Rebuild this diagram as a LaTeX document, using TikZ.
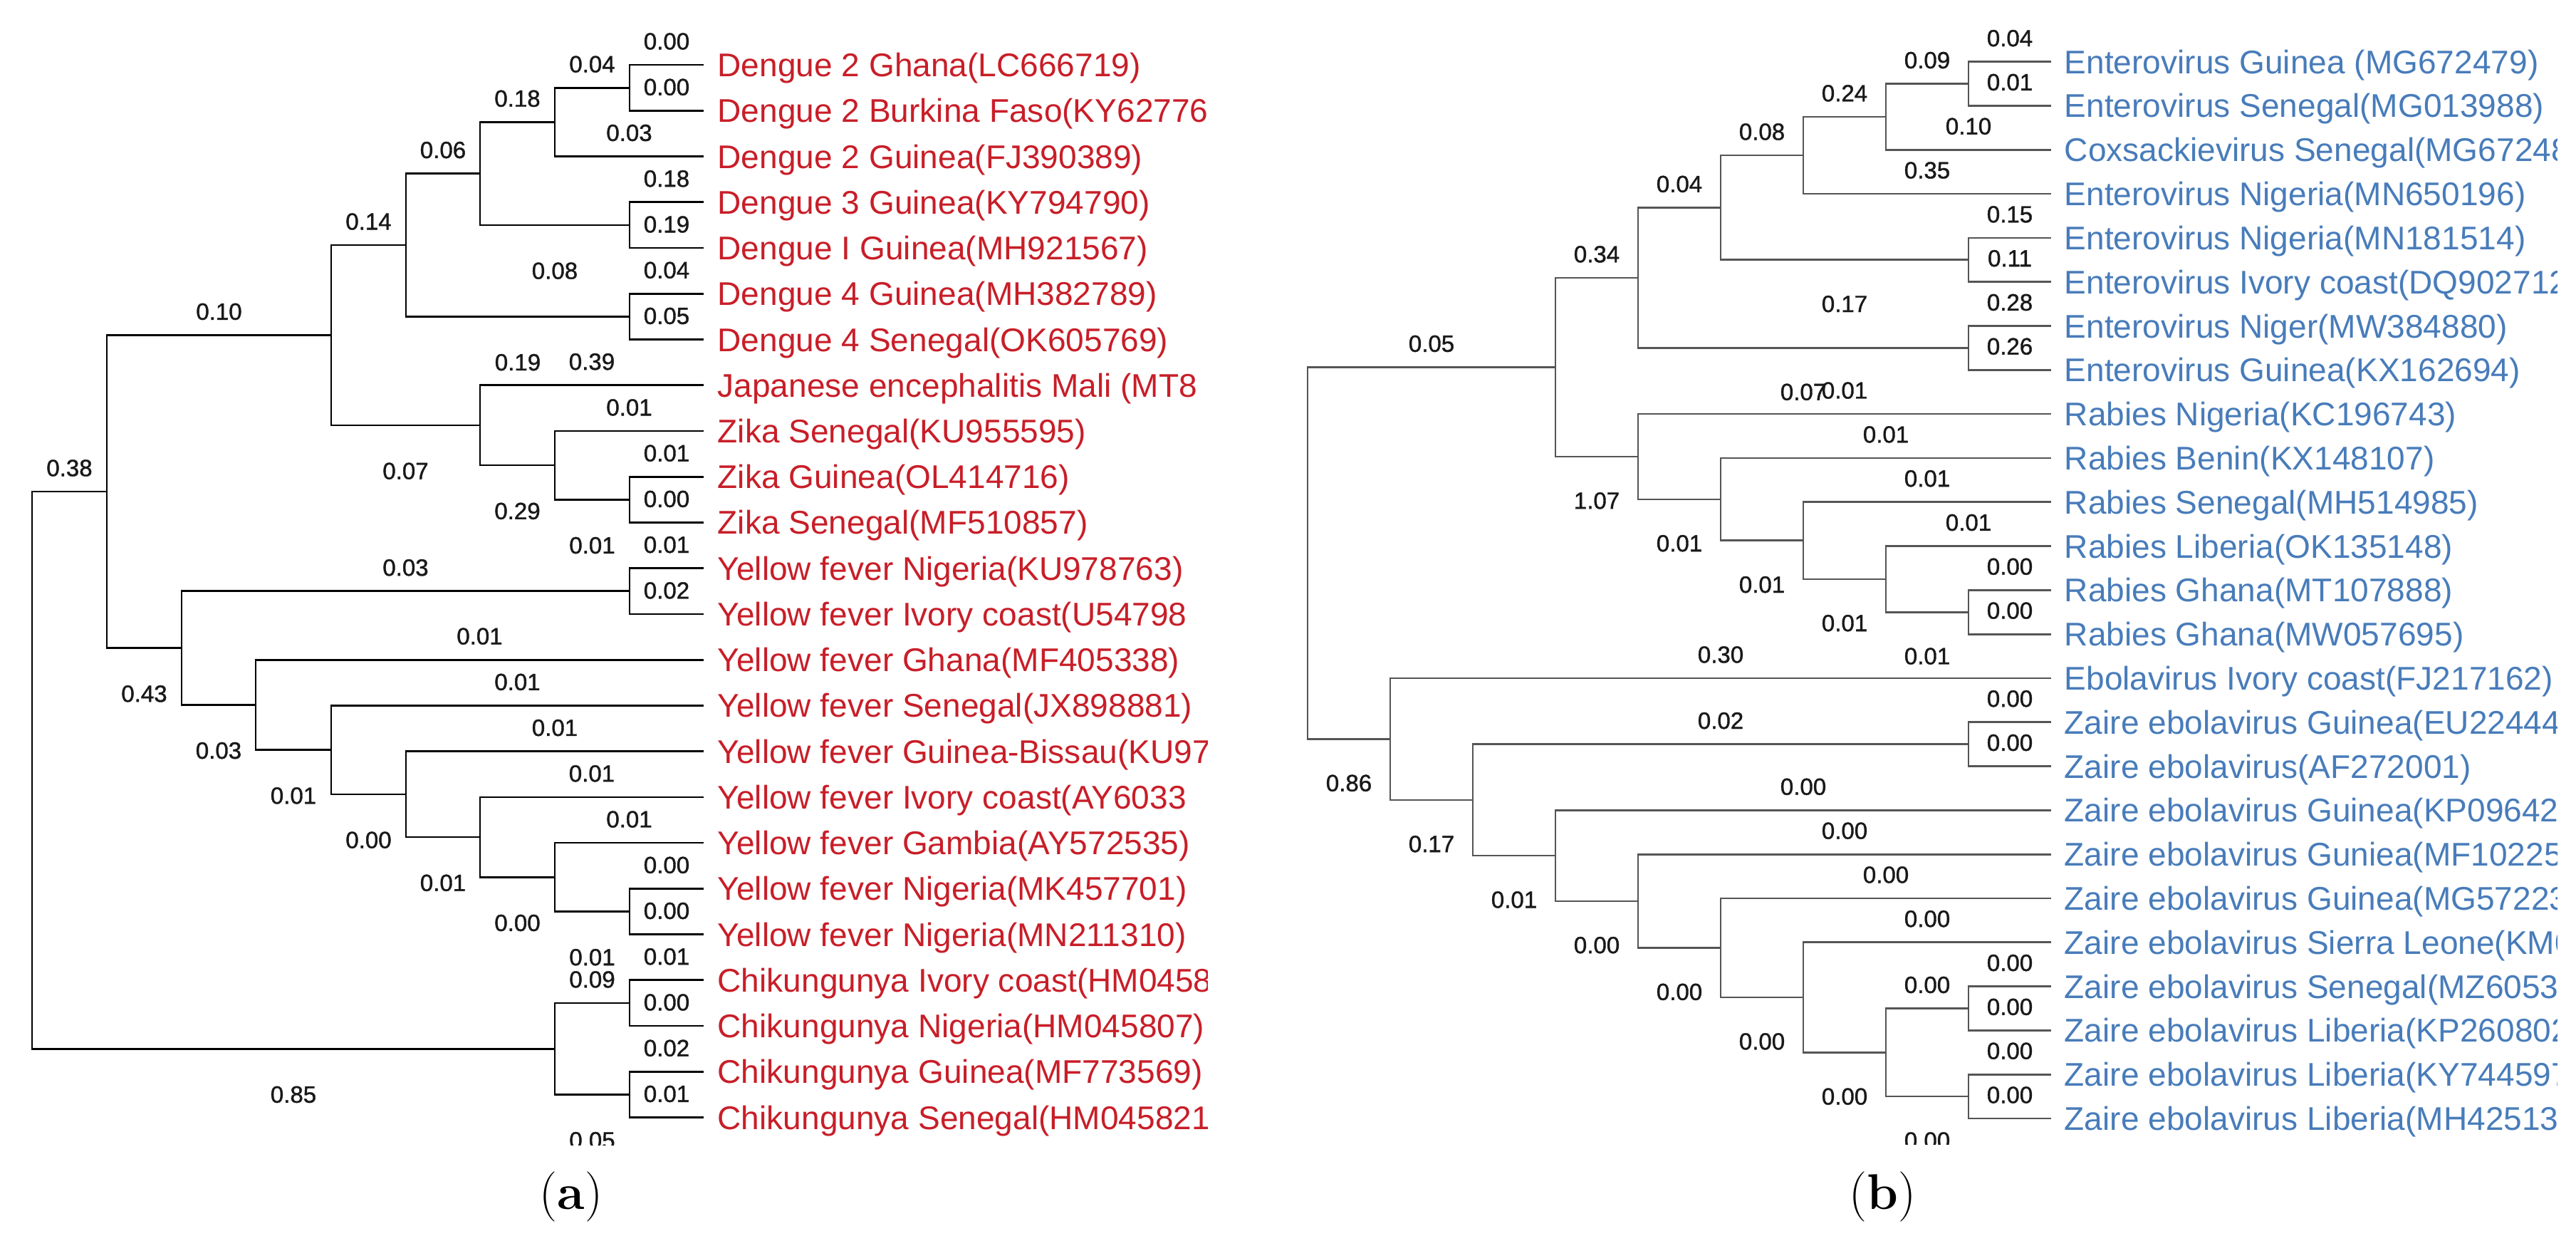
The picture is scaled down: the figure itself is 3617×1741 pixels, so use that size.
\documentclass[tikz,border=0pt]{standalone}
\usepackage{fontspec}
\newfontfamily\megafont{Liberation Sans}
\newfontfamily\lenfont[FakeBold=1.2]{Liberation Sans}
\definecolor{tipred}{RGB}{200,30,40}
\definecolor{tipblue}{RGB}{72,124,186}
\definecolor{treegray}{RGB}{85,85,85}

\begin{document}
\begin{tikzpicture}[x=0.01cm, y=-0.01cm,
	ba/.style={black, line width=0.027cm},
	bb/.style={treegray, line width=0.027cm},
	blen/.style={font=\lenfont\fontsize{9.4}{10}\selectfont, inner sep=0pt, text=black!90},
	lenup/.style={pos=.75, yshift=0.33cm},
	tipa/.style={anchor=base west, inner sep=0pt, xshift=0.19cm, yshift=-0.165cm, text=tipred, font=\megafont\fontsize{13.1}{15}\selectfont},
	tipb/.style={anchor=base west, inner sep=0pt, xshift=0.18cm, yshift=-0.165cm, text=tipblue, font=\megafont\fontsize{13.1}{15}\selectfont},
	panel/.style={inner sep=0pt, font=\fontsize{20}{24}\selectfont}]
\useasboundingbox (0,0) rectangle (3617,1741);

% (a)
\begin{scope}
	\clip (0,0) rectangle (1695,1607);
	\begin{scope}[y=-0.642cm, yshift=-0.268cm, lendn/.style={pos=.75, yshift=-0.642cm}]
	\coordinate (aroot) at (45,16.41);
	\coordinate (aA) at (150,10.324);
	\coordinate (aB) at (465,6.906);
	\coordinate (aC) at (570,4.938);
	\coordinate (aD) at (674,3.375);
	\coordinate (aE) at (779,2.25);
	\coordinate (aJ) at (674,8.875);
	\coordinate (aZk) at (779,9.75);
	\coordinate (aY) at (255,13.742);
	\coordinate (aZ) at (359,14.984);
	\coordinate (aW) at (465,15.969);
	\coordinate (aV) at (570,16.938);
	\coordinate (aU) at (674,17.875);
	\coordinate (aT) at (779,18.75);
	\coordinate (aK) at (779,22.5);
	\coordinate (ac12) at (884,1.5);
	\coordinate (ac45) at (884,4.5);
	\coordinate (ac67) at (884,6.5);
	\coordinate (ac1011) at (884,10.5);
	\coordinate (ac1213) at (884,12.5);
	\coordinate (ac1920) at (884,19.5);
	\coordinate (ac2122) at (884,21.5);
	\coordinate (ac2324) at (884,23.5);
	\foreach \i in {1,...,24} \coordinate (at\i) at (988,\i);

	\draw[ba] (aroot) |- node[blen,lenup] (laA) {0.38} (aA);
	\draw[ba] (aroot) |- node[blen,lendn] (laK) {0.85} (aK);
	\draw[ba] (aA) |- node[blen,lenup] (laB) {0.10} (aB);
	\draw[ba] (aA) |- node[blen,lendn] (laY) {0.43} (aY);
	\draw[ba] (aB) |- node[blen,lenup] (laC) {0.14} (aC);
	\draw[ba] (aB) |- node[blen,lendn] (laJ) {0.07} (aJ);
	\draw[ba] (aC) |- node[blen,lenup] (laD) {0.06} (aD);
	\draw[ba] (aC) |- node[blen,lendn] (lac67) {0.19} (ac67);
	\draw[ba] (aD) |- node[blen,lenup] (laE) {0.18} (aE);
	\draw[ba] (aD) |- node[blen,lendn] (lac45) {0.08} (ac45);
	\draw[ba] (aE) |- node[blen,lenup] (lac12) {0.04} (ac12);
	\draw[ba] (aE) |- node[blen,lenup] (lat3) {0.03} (at3);
	\draw[ba] (ac12) |- node[blen,lenup] (lat1) {0.00} (at1);
	\draw[ba] (ac12) |- node[blen,lenup] (lat2) {0.00} (at2);
	\draw[ba] (ac45) |- node[blen,lenup] (lat4) {0.18} (at4);
	\draw[ba] (ac45) |- node[blen,lenup] (lat5) {0.19} (at5);
	\draw[ba] (ac67) |- node[blen,lenup] (lat6) {0.04} (at6);
	\draw[ba] (ac67) |- node[blen,lenup] (lat7) {0.05} (at7);
	\draw[ba] (aJ) |- node[blen,lenup] (lat8) {0.39} (at8);
	\draw[ba] (aJ) |- node[blen,lendn] (laZk) {0.29} (aZk);
	\draw[ba] (aZk) |- node[blen,lenup] (lat9) {0.01} (at9);
	\draw[ba] (aZk) |- node[blen,lendn] (lac1011) {0.01} (ac1011);
	\draw[ba] (ac1011) |- node[blen,lenup] (lat10) {0.01} (at10);
	\draw[ba] (ac1011) |- node[blen,lenup] (lat11) {0.00} (at11);
	\draw[ba] (aY) |- node[blen,lenup] (lac1213) {0.03} (ac1213);
	\draw[ba] (aY) |- node[blen,lendn] (laZ) {0.03} (aZ);
	\draw[ba] (ac1213) |- node[blen,lenup] (lat12) {0.01} (at12);
	\draw[ba] (ac1213) |- node[blen,lenup] (lat13) {0.02} (at13);
	\draw[ba] (aZ) |- node[blen,lenup] (lat14) {0.01} (at14);
	\draw[ba] (aZ) |- node[blen,lendn] (laW) {0.01} (aW);
	\draw[ba] (aW) |- node[blen,lenup] (lat15) {0.01} (at15);
	\draw[ba] (aW) |- node[blen,lendn] (laV) {0.00} (aV);
	\draw[ba] (aV) |- node[blen,lenup] (lat16) {0.01} (at16);
	\draw[ba] (aV) |- node[blen,lendn] (laU) {0.01} (aU);
	\draw[ba] (aU) |- node[blen,lenup] (lat17) {0.01} (at17);
	\draw[ba] (aU) |- node[blen,lendn] (laT) {0.00} (aT);
	\draw[ba] (aT) |- node[blen,lenup] (lat18) {0.01} (at18);
	\draw[ba] (aT) |- node[blen,lendn] (lac1920) {0.01} (ac1920);
	\draw[ba] (ac1920) |- node[blen,lenup] (lat19) {0.00} (at19);
	\draw[ba] (ac1920) |- node[blen,lenup] (lat20) {0.00} (at20);
	\draw[ba] (aK) |- node[blen,lenup] (lac2122) {0.09} (ac2122);
	\draw[ba] (aK) |- node[blen,lendn] (lac2324) {0.05} (ac2324);
	\draw[ba] (ac2122) |- node[blen,lenup] (lat21) {0.01} (at21);
	\draw[ba] (ac2122) |- node[blen,lenup] (lat22) {0.00} (at22);
	\draw[ba] (ac2324) |- node[blen,lenup] (lat23) {0.02} (at23);
	\draw[ba] (ac2324) |- node[blen,lenup] (lat24) {0.01} (at24);

	\node[tipa] (nat1) at (at1) {Dengue 2 Ghana(LC666719)};
	\node[tipa] (nat2) at (at2) {Dengue 2 Burkina Faso(KY627766};
	\node[tipa] (nat3) at (at3) {Dengue 2 Guinea(FJ390389)};
	\node[tipa] (nat4) at (at4) {Dengue 3 Guinea(KY794790)};
	\node[tipa] (nat5) at (at5) {Dengue I Guinea(MH921567)};
	\node[tipa] (nat6) at (at6) {Dengue 4 Guinea(MH382789)};
	\node[tipa] (nat7) at (at7) {Dengue 4 Senegal(OK605769)};
	\node[tipa] (nat8) at (at8) {Japanese encephalitis Mali (MT8};
	\node[tipa] (nat9) at (at9) {Zika Senegal(KU955595)};
	\node[tipa] (nat10) at (at10) {Zika Guinea(OL414716)};
	\node[tipa] (nat11) at (at11) {Zika Senegal(MF510857)};
	\node[tipa] (nat12) at (at12) {Yellow fever Nigeria(KU978763)};
	\node[tipa] (nat13) at (at13) {Yellow fever Ivory coast(U54798};
	\node[tipa] (nat14) at (at14) {Yellow fever Ghana(MF405338)};
	\node[tipa] (nat15) at (at15) {Yellow fever Senegal(JX898881)};
	\node[tipa] (nat16) at (at16) {Yellow fever Guinea-Bissau(KU97};
	\node[tipa] (nat17) at (at17) {Yellow fever Ivory coast(AY6033};
	\node[tipa] (nat18) at (at18) {Yellow fever Gambia(AY572535)};
	\node[tipa] (nat19) at (at19) {Yellow fever Nigeria(MK457701)};
	\node[tipa] (nat20) at (at20) {Yellow fever Nigeria(MN211310)};
	\node[tipa] (nat21) at (at21) {Chikungunya Ivory coast(HM0458};
	\node[tipa] (nat22) at (at22) {Chikungunya Nigeria(HM045807)};
	\node[tipa] (nat23) at (at23) {Chikungunya Guinea(MF773569)};
	\node[tipa] (nat24) at (at24) {Chikungunya Senegal(HM045821};
	\end{scope}
\end{scope}

% (b)
\begin{scope}
	\clip (1700,0) rectangle (3590,1606);
	\begin{scope}[y=-0.6177cm, yshift=-0.2483cm, lendn/.style={pos=.75, yshift=-0.618cm}]
	\coordinate (broot) at (1836,12.16);
	\coordinate (bP) at (2184,7.9375);
	\coordinate (bQ) at (2300,5.906);
	\coordinate (bR) at (2416,4.3125);
	\coordinate (bS) at (2532,3.125);
	\coordinate (bG) at (2648,2.25);
	\coordinate (bM) at (2300,9.969);
	\coordinate (bN) at (2416,10.9375);
	\coordinate (bO) at (2532,11.875);
	\coordinate (bO2) at (2648,12.75);
	\coordinate (bE1) at (1952,16.383);
	\coordinate (bE2) at (2068,17.766);
	\coordinate (bE3) at (2184,19.031);
	\coordinate (bE4) at (2300,20.0625);
	\coordinate (bE5) at (2416,21.125);
	\coordinate (bE6) at (2532,22.25);
	\coordinate (bE7) at (2648,23.5);
	\coordinate (bc12) at (2764,1.5);
	\coordinate (bc56) at (2764,5.5);
	\coordinate (bc78) at (2764,7.5);
	\coordinate (bc1314) at (2764,13.5);
	\coordinate (bc1617) at (2764,16.5);
	\coordinate (bc2223) at (2764,22.5);
	\coordinate (bc2425) at (2764,24.5);
	\foreach \i in {1,...,25} \coordinate (bt\i) at (2880,\i);

	\draw[bb] (broot) |- node[blen,lenup] (lbP) {0.05} (bP);
	\draw[bb] (broot) |- node[blen,lendn] (lbE1) {0.86} (bE1);
	\draw[bb] (bP) |- node[blen,lenup] (lbQ) {0.34} (bQ);
	\draw[bb] (bP) |- node[blen,lendn] (lbM) {1.07} (bM);
	\draw[bb] (bQ) |- node[blen,lenup] (lbR) {0.04} (bR);
	\draw[bb] (bQ) |- node[blen,lendn] (lbc78) {0.07} (bc78);
	\draw[bb] (bR) |- node[blen,lenup] (lbS) {0.08} (bS);
	\draw[bb] (bR) |- node[blen,lendn] (lbc56) {0.17} (bc56);
	\draw[bb] (bS) |- node[blen,lenup] (lbG) {0.24} (bG);
	\draw[bb] (bS) |- node[blen,lenup] (lbt4) {0.35} (bt4);
	\draw[bb] (bG) |- node[blen,lenup] (lbc12) {0.09} (bc12);
	\draw[bb] (bG) |- node[blen,lenup] (lbt3) {0.10} (bt3);
	\draw[bb] (bc12) |- node[blen,lenup] (lbt1) {0.04} (bt1);
	\draw[bb] (bc12) |- node[blen,lenup] (lbt2) {0.01} (bt2);
	\draw[bb] (bc56) |- node[blen,lenup] (lbt5) {0.15} (bt5);
	\draw[bb] (bc56) |- node[blen,lenup] (lbt6) {0.11} (bt6);
	\draw[bb] (bc78) |- node[blen,lenup] (lbt7) {0.28} (bt7);
	\draw[bb] (bc78) |- node[blen,lenup] (lbt8) {0.26} (bt8);
	\draw[bb] (bM) |- node[blen,lenup] (lbt9) {0.01} (bt9);
	\draw[bb] (bM) |- node[blen,lendn] (lbN) {0.01} (bN);
	\draw[bb] (bN) |- node[blen,lenup] (lbt10) {0.01} (bt10);
	\draw[bb] (bN) |- node[blen,lendn] (lbO) {0.01} (bO);
	\draw[bb] (bO) |- node[blen,lenup] (lbt11) {0.01} (bt11);
	\draw[bb] (bO) |- node[blen,lendn] (lbO2) {0.01} (bO2);
	\draw[bb] (bO2) |- node[blen,lenup] (lbt12) {0.01} (bt12);
	\draw[bb] (bO2) |- node[blen,lendn] (lbc1314) {0.01} (bc1314);
	\draw[bb] (bc1314) |- node[blen,lenup] (lbt13) {0.00} (bt13);
	\draw[bb] (bc1314) |- node[blen,lenup] (lbt14) {0.00} (bt14);
	\draw[bb] (bE1) |- node[blen,lenup] (lbt15) {0.30} (bt15);
	\draw[bb] (bE1) |- node[blen,lendn] (lbE2) {0.17} (bE2);
	\draw[bb] (bE2) |- node[blen,lenup] (lbc1617) {0.02} (bc1617);
	\draw[bb] (bE2) |- node[blen,lendn] (lbE3) {0.01} (bE3);
	\draw[bb] (bc1617) |- node[blen,lenup] (lbt16) {0.00} (bt16);
	\draw[bb] (bc1617) |- node[blen,lenup] (lbt17) {0.00} (bt17);
	\draw[bb] (bE3) |- node[blen,lenup] (lbt18) {0.00} (bt18);
	\draw[bb] (bE3) |- node[blen,lendn] (lbE4) {0.00} (bE4);
	\draw[bb] (bE4) |- node[blen,lenup] (lbt19) {0.00} (bt19);
	\draw[bb] (bE4) |- node[blen,lendn] (lbE5) {0.00} (bE5);
	\draw[bb] (bE5) |- node[blen,lenup] (lbt20) {0.00} (bt20);
	\draw[bb] (bE5) |- node[blen,lendn] (lbE6) {0.00} (bE6);
	\draw[bb] (bE6) |- node[blen,lenup] (lbt21) {0.00} (bt21);
	\draw[bb] (bE6) |- node[blen,lendn] (lbE7) {0.00} (bE7);
	\draw[bb] (bE7) |- node[blen,lenup] (lbc2223) {0.00} (bc2223);
	\draw[bb] (bE7) |- node[blen,lendn] (lbc2425) {0.00} (bc2425);
	\draw[bb] (bc2223) |- node[blen,lenup] (lbt22) {0.00} (bt22);
	\draw[bb] (bc2223) |- node[blen,lenup] (lbt23) {0.00} (bt23);
	\draw[bb] (bc2425) |- node[blen,lenup] (lbt24) {0.00} (bt24);
	\draw[bb] (bc2425) |- node[blen,lenup] (lbt25) {0.00} (bt25);

	\node[tipb] (nbt1) at (bt1) {Enterovirus Guinea (MG672479)};
	\node[tipb] (nbt2) at (bt2) {Enterovirus Senegal(MG013988)};
	\node[tipb] (nbt3) at (bt3) {Coxsackievirus Senegal(MG67248};
	\node[tipb] (nbt4) at (bt4) {Enterovirus Nigeria(MN650196)};
	\node[tipb] (nbt5) at (bt5) {Enterovirus Nigeria(MN181514)};
	\node[tipb] (nbt6) at (bt6) {Enterovirus Ivory coast(DQ902712};
	\node[tipb] (nbt7) at (bt7) {Enterovirus Niger(MW384880)};
	\node[tipb] (nbt8) at (bt8) {Enterovirus Guinea(KX162694)};
	\node[tipb] (nbt9) at (bt9) {Rabies Nigeria(KC196743)};
	\node[tipb] (nbt10) at (bt10) {Rabies Benin(KX148107)};
	\node[tipb] (nbt11) at (bt11) {Rabies Senegal(MH514985)};
	\node[tipb] (nbt12) at (bt12) {Rabies Liberia(OK135148)};
	\node[tipb] (nbt13) at (bt13) {Rabies Ghana(MT107888)};
	\node[tipb] (nbt14) at (bt14) {Rabies Ghana(MW057695)};
	\node[tipb] (nbt15) at (bt15) {Ebolavirus Ivory coast(FJ217162)};
	\node[tipb] (nbt16) at (bt16) {Zaire ebolavirus Guinea(EU224446};
	\node[tipb] (nbt17) at (bt17) {Zaire ebolavirus(AF272001)};
	\node[tipb] (nbt18) at (bt18) {Zaire ebolavirus Guinea(KP096426};
	\node[tipb] (nbt19) at (bt19) {Zaire ebolavirus Guniea(MF102256};
	\node[tipb] (nbt20) at (bt20) {Zaire ebolavirus Guinea(MG572233};
	\node[tipb] (nbt21) at (bt21) {Zaire ebolavirus Sierra Leone(KM0};
	\node[tipb] (nbt22) at (bt22) {Zaire ebolavirus Senegal(MZ60533};
	\node[tipb] (nbt23) at (bt23) {Zaire ebolavirus Liberia(KP260802};
	\node[tipb] (nbt24) at (bt24) {Zaire ebolavirus Liberia(KY744597};
	\node[tipb] (nbt25) at (bt25) {Zaire ebolavirus Liberia(MH425134};
	\end{scope}
\end{scope}

\node[panel] (capa) at (802,1680) {(\textbf{a})};
\node[panel] (capb) at (2643,1680) {(\textbf{b})};
\end{tikzpicture}
\end{document}
